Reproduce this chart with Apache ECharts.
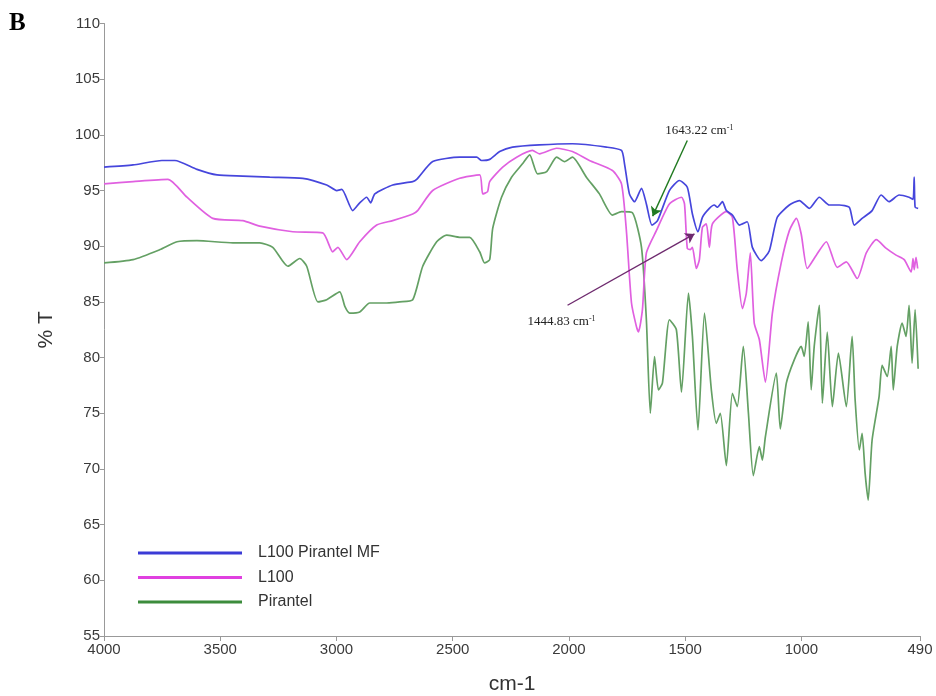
<!DOCTYPE html>
<html>
<head>
<meta charset="utf-8">
<title>FTIR spectra</title>
<script src="https://cdn.jsdelivr.net/npm/echarts@6/dist/echarts.min.js"></script>
<style>
  html, body { margin: 0; padding: 0; background: #fff; }
  #chart { width: 936px; height: 696px; }
</style>
</head>
<body>
<div id="chart"></div>
<script>
// Wavenumber (cm-1) / transmittance (%T) pairs for each spectrum
const mfWavenumber = [4000,3875,3751,3695,3600,3514,3403,3287,3145,3042,2999,2977,2930,2900,2870,2853,2835,2758,2672,2655,2586,2470,2397,2376,2341,2298,2243,2127,1985,1839,1774,1761,1740,1718,1688,1667,1643.22,1619,1568,1525,1491,1469,1444.83,1426,1396,1375,1362,1340,1323,1297,1267,1233,1211,1173,1138,1104,1052,1009,966,923,880,837,794,773,739,696,657,623,580,537,520,515,511,498];
const mfValues     = [97.1,97.3,97.7,97.7,96.9,96.4,96.3,96.2,96.1,95.5,95.0,95.1,93.2,93.9,94.4,93.9,94.7,95.5,95.8,96.0,97.6,98.0,98.0,97.7,97.8,98.5,98.9,99.1,99.2,98.9,98.6,97.4,94.7,94.0,95.2,93.8,91.9,92.3,95.0,95.9,95.3,92.9,91.3,92.6,93.4,93.7,93.5,94.0,93.2,92.8,91.9,92.2,89.9,88.7,89.6,92.6,93.7,94.1,93.4,94.4,93.7,93.7,93.5,91.9,92.5,93.2,94.6,94.0,94.6,94.4,94.2,96.2,93.5,93.4];

const l100Wavenumber = [4000,3875,3725,3643,3532,3403,3330,3188,3059,3016,2994,2956,2900,2827,2758,2672,2651,2586,2470,2384,2371,2350,2341,2285,2225,2157,2127,2053,1985,1912,1813,1774,1753,1731,1710,1701,1684,1667,1624,1568,1516,1503,1491,1478,1469,1452,1439,1426,1409,1396,1383,1323,1297,1276,1254,1237,1220,1203,1181,1155,1125,1087,1052,1022,1001,975,936,893,846,807,760,721,678,635,593,558,528,520,515,507,500];
const l100Values     = [95.6,95.8,96.0,94.4,92.5,92.3,91.8,91.3,91.2,89.5,89.9,88.8,90.4,91.9,92.3,92.9,93.2,95.0,96.1,96.4,94.7,94.9,95.8,97.1,98.0,98.6,98.3,98.8,98.5,97.7,96.8,95.6,91.4,84.9,82.8,82.3,84.3,89.4,91.4,93.8,94.4,93.8,89.8,89.7,89.9,88.0,88.8,91.7,92.0,89.9,92.0,93.1,92.6,87.9,84.4,85.8,89.4,83.1,81.6,77.8,84.0,88.5,91.4,92.5,91.1,88.0,89.2,90.4,88.1,88.6,87.1,89.4,90.6,89.8,89.2,88.8,87.7,88.9,87.9,89.0,88.0];

const pirantelWavenumber = [4000,3875,3759,3686,3600,3446,3330,3274,3209,3158,3128,3080,3042,2986,2964,2943,2900,2857,2784,2728,2672,2629,2569,2526,2470,2427,2384,2363,2341,2328,2290,2247,2200,2169,2135,2096,2053,2019,1985,1925,1869,1813,1774,1727,1688,1667,1650,1632,1615,1598,1568,1538,1516,1486,1469,1445,1417,1387,1366,1349,1323,1297,1276,1250,1228,1207,1181,1168,1155,1108,1091,1065,1031,1001,988,971,958,945,923,910,889,867,841,807,782,769,751,739,726,713,696,666,653,631,614,605,588,567,550,537,524,511,498];
const pirantelValues     = [88.5,88.8,89.7,90.4,90.5,90.3,90.3,89.9,88.2,88.9,88.2,85.0,85.2,85.9,84.6,84.0,84.1,84.9,84.9,85.0,85.2,88.2,90.4,91.0,90.8,90.8,89.5,88.5,88.8,91.6,94.4,96.2,97.4,98.2,96.5,96.7,98.0,97.6,98.0,96.2,94.7,92.8,93.1,93.0,89.9,83.4,75.0,80.1,77.1,77.7,83.4,82.5,76.9,85.8,81.9,73.5,84.0,77.0,74.1,75.0,70.3,76.8,75.6,81.0,75.0,69.4,72.0,70.8,72.9,78.6,73.6,77.7,79.8,81.0,80.1,83.2,77.1,81.0,84.7,75.9,82.3,75.6,80.4,75.6,81.9,76.2,71.7,73.2,69.6,67.2,72.6,76.5,79.3,78.3,81.0,77.1,81.0,83.1,81.9,84.7,79.5,84.3,79.0];

const seriesNames = ['L100 Pirantel MF', 'L100', 'Pirantel'];
const xTickValues = [4000, 3500, 3000, 2500, 2000, 1500, 1000, 490];

// Band annotations: label anchor, arrow start, arrow tip (wavenumber, %T)
const band1Text = '1643.22';
const band1Label = [1439, 100.35];
const band1Arrow = [[1491, 99.5], [1640, 92.7]];
const band2Text = '1444.83';
const band2Label = [2032, 83.2];
const band2Arrow = [[2006, 84.7], [1460, 91.1]];

const zip = (xs, ys) => xs.map((x, i) => [x, ys[i]]);

const chart = echarts.init(document.getElementById('chart'), null, { renderer: 'canvas' });

const tickFont = { fontFamily: 'Liberation Sans, Arial, sans-serif', fontSize: 15, color: '#3a3a3a' };
const annoRich = {
  n: { fontFamily: 'Liberation Serif, Times New Roman, serif', fontSize: 13, color: '#222' },
  s: { fontFamily: 'Liberation Serif, Times New Roman, serif', fontSize: 8, color: '#222', verticalAlign: 'top', padding: [0, 0, 6, 0] }
};

const option = {
  animation: false,
  backgroundColor: '#fff',
  grid: { left: 104, right: 16, top: 23.5, bottom: 60, containLabel: false, outerBoundsMode: 'none' },
  graphic: [{
    type: 'text', left: 9, top: 11,
    style: { text: 'B', font: 'bold 25px "Liberation Serif", "Times New Roman", serif', fill: '#000' }
  }],
  legend: {
    orient: 'vertical', left: 133, top: 540,
    icon: 'rect', itemWidth: 104, itemHeight: 3, itemGap: 8.5,
    selectedMode: false,
    data: seriesNames,
    textStyle: { fontFamily: 'Liberation Sans, Arial, sans-serif', fontSize: 16, color: '#333', padding: [0, 0, 0, 11], lineHeight: 16 }
  },
  xAxis: {
    type: 'value', inverse: true, min: 490, max: 4000,
    name: 'cm-1', nameLocation: 'middle', nameGap: 38,
    nameTextStyle: { fontFamily: 'Liberation Sans, Arial, sans-serif', fontSize: 21, color: '#333' },
    axisLine: { show: true, lineStyle: { color: '#999', width: 1 } },
    axisTick: { show: true, length: 5, customValues: xTickValues, lineStyle: { color: '#999' } },
    axisLabel: Object.assign({ customValues: xTickValues, margin: 6, formatter: v => String(v) }, tickFont),
    splitLine: { show: false }
  },
  yAxis: {
    type: 'value', min: 55, max: 110, interval: 5,
    name: '% T', nameLocation: 'middle', nameGap: 47,
    nameTextStyle: { fontFamily: 'Liberation Sans, Arial, sans-serif', fontSize: 21, color: '#333' },
    axisLine: { show: true, lineStyle: { color: '#999', width: 1 } },
    axisTick: { show: true, length: 4, lineStyle: { color: '#999' } },
    axisLabel: Object.assign({ margin: 4 }, tickFont),
    splitLine: { show: false }
  },
  series: [
    {
      name: seriesNames[0], type: 'line', data: zip(mfWavenumber, mfValues),
      symbol: 'none', smooth: 0.2, color: '#3b3bd6',
      lineStyle: { width: 1.7, color: '#4646dc' }, z: 3,
      emphasis: { disabled: true },
      markLine: {
        silent: true, symbol: ['none', 'arrow'], symbolSize: 9,
        label: { show: false },
        emphasis: { disabled: true },
        data: [
          [{ coord: band1Arrow[0], lineStyle: { color: '#207a20', width: 1.4, type: 'solid' }, itemStyle: { color: '#207a20' } }, { coord: band1Arrow[1] }],
          [{ coord: band2Arrow[0], lineStyle: { color: '#6e2a6e', width: 1.4, type: 'solid' }, itemStyle: { color: '#6e2a6e' } }, { coord: band2Arrow[1] }]
        ]
      },
      markPoint: {
        silent: true, symbol: 'circle', symbolSize: 0,
        label: { show: true, position: 'inside', formatter: p => '{n|' + p.name + ' cm}{s|-1}', rich: annoRich },
        data: [
          { name: band1Text, coord: band1Label },
          { name: band2Text, coord: band2Label }
        ]
      }
    },
    {
      name: seriesNames[1], type: 'line', data: zip(l100Wavenumber, l100Values),
      symbol: 'none', smooth: 0.2, color: '#e040e0',
      lineStyle: { width: 1.7, color: '#e060e0' }, z: 2,
      emphasis: { disabled: true }
    },
    {
      name: seriesNames[2], type: 'line', data: zip(pirantelWavenumber, pirantelValues),
      symbol: 'none', smooth: 0.2, color: '#3c8c3c',
      lineStyle: { width: 1.7, color: '#64a064' }, z: 1,
      emphasis: { disabled: true }
    }
  ]
};

chart.setOption(option);
</script>
</body>
</html>
